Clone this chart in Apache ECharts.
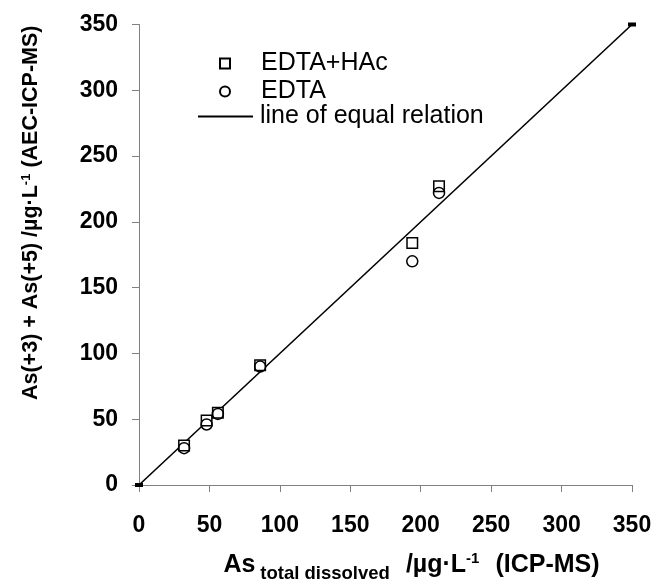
<!DOCTYPE html>
<html>
<head>
<meta charset="utf-8">
<script src="https://cdn.jsdelivr.net/npm/echarts@6/dist/echarts.min.js"></script>
<style>html,body{margin:0;padding:0;background:#fff}#c{width:655px;height:580px}</style>
</head>
<body>
<div id="c"></div>
<script>
// Data
var totalDissolved = [32, 48, 56, 86, 194, 213];
var edtaHAc = [30, 49, 55, 91, 184, 227];
var edta = [28, 46, 54, 90, 170, 222];
var equalLine = [[0, 0], [350, 350]];
var axisTicks = [0, 50, 100, 150, 200, 250, 300, 350];
var seriesNames = ['EDTA+HAc', 'EDTA', 'line of equal relation'];

var FONT = 'Liberation Sans, Arial, sans-serif';

function pairs(xs, ys) { return xs.map(function (x, i) { return [x, ys[i]]; }); }

var legendText = { fontSize: 25, color: '#000', fontFamily: FONT };

var chart = echarts.init(document.getElementById('c'));
chart.setOption({
  animation: false,
  backgroundColor: '#fff',
  textStyle: { fontFamily: FONT },
  grid: { left: 139, right: 23, top: 24.5, bottom: 95, containLabel: false, outerBoundsMode: 'none' },
  legend: [
    {
      data: [seriesNames[0]], left: 219, top: 51, padding: 0, itemWidth: 10, itemHeight: 10,
      textStyle: Object.assign({ padding: [0, 0, 0, 26] }, legendText),
      selectedMode: false
    },
    {
      data: [seriesNames[1]], left: 219, top: 79, padding: 0, itemWidth: 10, itemHeight: 10,
      textStyle: Object.assign({ padding: [0, 0, 0, 26] }, legendText),
      selectedMode: false
    },
    {
      data: [{ name: seriesNames[2], icon: 'rect', itemStyle: { color: '#000' } }],
      left: 198, top: 104, padding: 0, itemWidth: 55, itemHeight: 2,
      textStyle: Object.assign({ padding: [0, 0, 0, 2] }, legendText),
      selectedMode: false
    }
  ],
  xAxis: {
    type: 'value', min: 0, max: 350, interval: 50,
    axisLine: { show: true, lineStyle: { color: '#808080', width: 1 } },
    axisTick: { show: true, inside: false, length: 7, lineStyle: { color: '#808080' } },
    splitLine: { show: false },
    axisLabel: {
      margin: 29, fontSize: 23, fontWeight: 'bold', color: '#000', fontFamily: FONT,
      formatter: function (v) { return axisTicks.indexOf(v) >= 0 ? String(v) : ''; }
    },
    name: '{a|As}{s|total dissolved}{b|/µg·L}{p|-1}{c|(ICP-MS)}',
    nameLocation: 'middle', nameGap: 63,
    nameTextStyle: {
      color: '#000', fontFamily: FONT, padding: [0, 0, 0, 52],
      rich: {
        a: { fontSize: 25, fontWeight: 'bold', color: '#000', fontFamily: FONT, lineHeight: 30, verticalAlign: 'bottom' },
        s: { fontSize: 18.5, fontWeight: 'bold', color: '#000', fontFamily: FONT, lineHeight: 30, verticalAlign: 'bottom', padding: [0, 0, -5, 5] },
        b: { fontSize: 25, fontWeight: 'bold', color: '#000', fontFamily: FONT, lineHeight: 30, verticalAlign: 'bottom', padding: [0, 0, 0, 16] },
        p: { fontSize: 15, fontWeight: 'bold', color: '#000', fontFamily: FONT, lineHeight: 30, verticalAlign: 'top', padding: [3, 0, 0, 0] },
        c: { fontSize: 25, fontWeight: 'bold', color: '#000', fontFamily: FONT, lineHeight: 30, verticalAlign: 'bottom', padding: [0, 0, 0, 16] }
      }
    }
  },
  yAxis: {
    type: 'value', min: 0, max: 350, interval: 50,
    axisLine: { show: true, lineStyle: { color: '#808080', width: 1 } },
    axisTick: { show: true, inside: false, length: 7, lineStyle: { color: '#808080' } },
    splitLine: { show: false },
    axisLabel: {
      margin: 21, fontSize: 23, fontWeight: 'bold', color: '#000', fontFamily: FONT,
      formatter: function (v) { return axisTicks.indexOf(v) >= 0 ? String(v) : ''; }
    },
    name: '{b|As(+3) + As(+5) /µg·L}{p|-1}{b| (AEC-ICP-MS)}',
    nameLocation: 'middle', nameGap: 97, nameRotate: 90,
    nameTextStyle: {
      color: '#000', fontFamily: FONT, padding: [0, 0, 0, 84],
      rich: {
        b: { fontSize: 21.5, fontWeight: 'bold', color: '#000', fontFamily: FONT, lineHeight: 26, verticalAlign: 'bottom' },
        p: { fontSize: 13, fontWeight: 'bold', color: '#000', fontFamily: FONT, lineHeight: 26, verticalAlign: 'top', padding: [4, 0, 0, 0] }
      }
    }
  },
  series: [
    {
      name: seriesNames[0], type: 'scatter', symbol: 'rect', symbolSize: 10.5,
      itemStyle: { color: '#fff', borderColor: '#000', borderWidth: 1.5, opacity: 1 },
      data: pairs(totalDissolved, edtaHAc), z: 3
    },
    {
      name: seriesNames[1], type: 'scatter', symbol: 'circle', symbolSize: 11,
      itemStyle: { color: 'rgba(255,255,255,0)', borderColor: '#000', borderWidth: 1.5, opacity: 1 },
      data: pairs(totalDissolved, edta), z: 4
    },
    {
      name: seriesNames[2], type: 'line', symbol: 'rect', symbolSize: [8, 4], showSymbol: true,
      itemStyle: { color: '#000' }, lineStyle: { color: '#000', width: 1.6 },
      data: equalLine, z: 2
    }
  ]
});
</script>
</body>
</html>
